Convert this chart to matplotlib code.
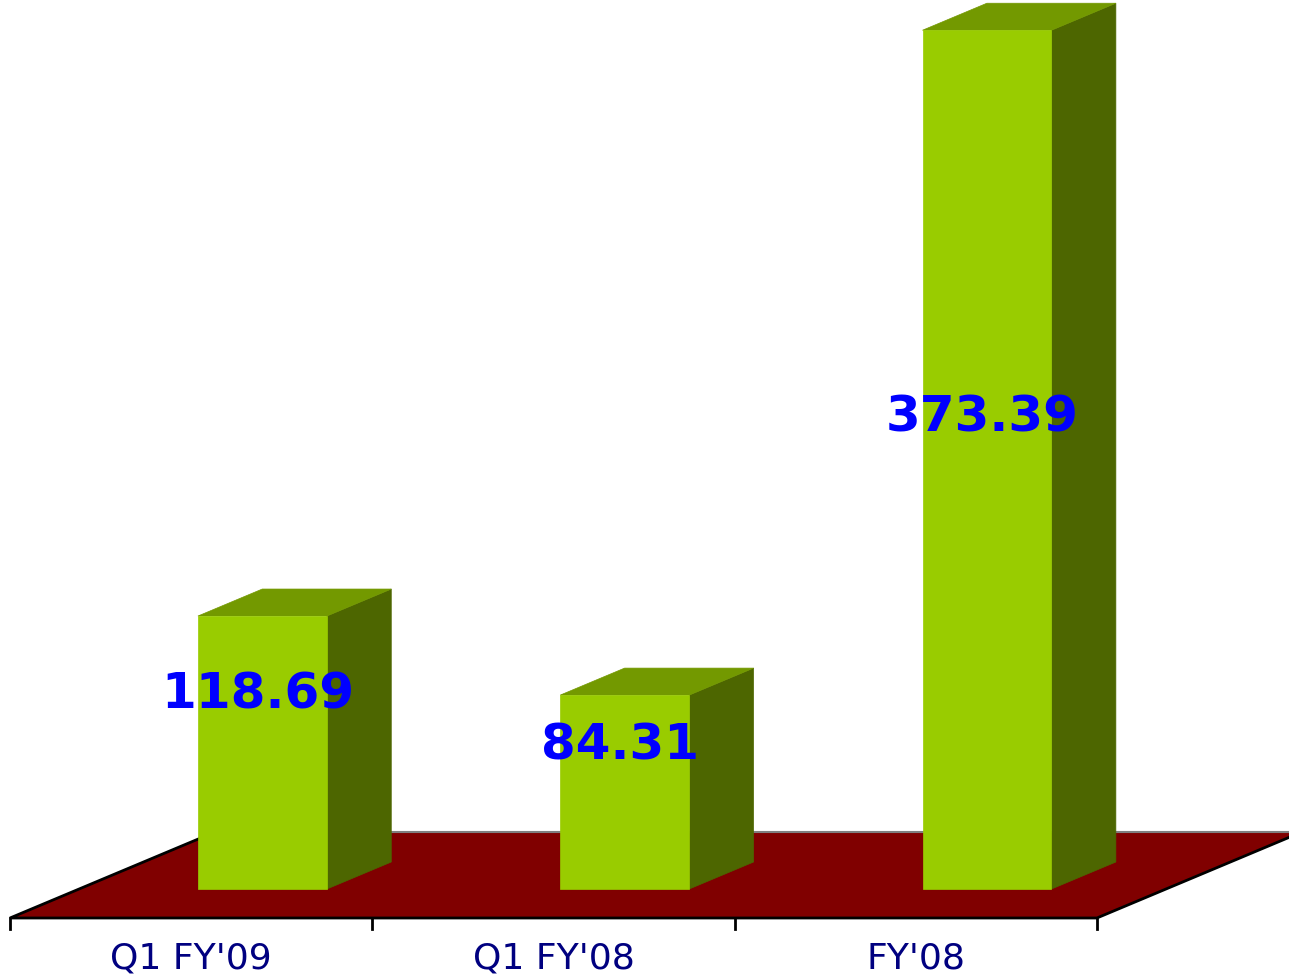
import matplotlib
matplotlib.use('Agg')
import matplotlib.pyplot as plt
from matplotlib.patches import Polygon

# ---- data ----
categories = ["Q1 FY'09", "Q1 FY'08", "FY'08"]
values = [118.69, 84.31, 373.39]
value_labels = ["118.69", "84.31", "373.39"]

# ---- layout (label heights in value units at the bar front) ----
label_heights = [87.0, 64.8, 207.4]

W, H = 1289, 979
fig = plt.figure(figsize=(W / 100, H / 100), dpi=100)
ax = fig.add_axes([0, 0, 1, 1])
PX_CAT = 362.3   # pixels per category
PX_VAL = 2.30    # pixels per value unit
x0px, y0px = 10, 919
ax.set_xlim(-x0px / PX_CAT, (W - x0px) / PX_CAT)
ax.set_ylim((y0px - H) / PX_VAL, y0px / PX_VAL)
ax.axis('off')

DX = 205 / PX_CAT
DY = 86 / PX_VAL


def proj(x, v, d):
    return (x + DX * d, v + DY * d)


n = len(categories)
FLOOR = '#800000'
FRONT = '#99CC00'
TOP = '#739900'
SIDE = '#4D6600'

# floor
floor = Polygon([proj(0, 0, 0), proj(n, 0, 0), proj(n, 0, 1), proj(0, 0, 1)],
                closed=True, facecolor=FLOOR, edgecolor='none', zorder=1)
ax.add_patch(floor)
ax.plot(*zip(proj(0, 0, 1), proj(n, 0, 1)), color='#808080', lw=1.5, zorder=1.5)
ax.plot(*zip(proj(0, 0, 1), proj(0, 0, 0), proj(n, 0, 0), proj(n, 0, 1)),
        color='black', lw=2, zorder=1.6, solid_joinstyle='miter')
for k in range(n + 1):
    ax.plot([k, k], [0, -11 / PX_VAL], color='black', lw=2, zorder=1.6)

# bars
off, bw, d0, d1 = 0.328, 0.356, 0.337, 0.651
for i, v in enumerate(values):
    bx0 = i + off
    bx1 = bx0 + bw
    front = [proj(bx0, 0, d0), proj(bx1, 0, d0), proj(bx1, v, d0), proj(bx0, v, d0)]
    top = [proj(bx0, v, d0), proj(bx1, v, d0), proj(bx1, v, d1), proj(bx0, v, d1)]
    side = [proj(bx1, 0, d0), proj(bx1, 0, d1), proj(bx1, v, d1), proj(bx1, v, d0)]
    for pts, c in ((side, SIDE), (top, TOP), (front, FRONT)):
        ax.add_patch(Polygon(pts, closed=True, facecolor=c, edgecolor=c,
                             lw=0.5, zorder=2 + i * 0.1))
    cx, cy = proj(bx0 + bw / 2 - 0.012, label_heights[i], d0)
    ax.text(cx, cy, value_labels[i], color='#0000FF', fontsize=36,
            fontweight='heavy', family='DejaVu Sans', ha='center',
            va='center_baseline', zorder=5)

# category labels
for i, c in enumerate(categories):
    ax.text(i + 0.5, -(969 - y0px) / PX_VAL, c, color='#000080', fontsize=26,
            family='DejaVu Sans', ha='center', va='baseline', zorder=5)

fig.savefig('out.png', dpi=100)
